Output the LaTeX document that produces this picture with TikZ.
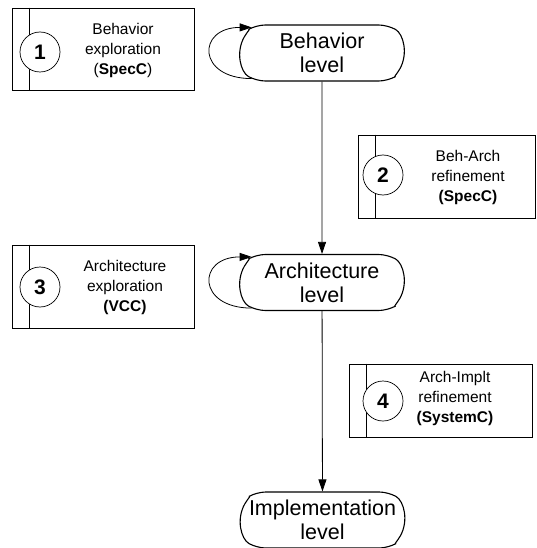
\documentclass[tikz,border=0pt]{standalone}
\usepackage{fontspec}
\setmainfont{Liberation Sans}
\usetikzlibrary{shapes.misc, arrows.meta, positioning}

\begin{document}
\begin{tikzpicture}[x=1pt, y=-1pt,
  lvl/.style={rounded rectangle, rounded rectangle arc length=120, rounded corners=9pt,
              draw=black, line width=1.1pt, minimum width=164pt, minimum height=56pt,
              inner sep=0pt, align=center, font=\fontsize{21.5}{24}\selectfont},
  toolbox/.style={rectangle, draw=black, line width=0.8pt, inner sep=0pt},
  num/.style={circle, draw=black, fill=white, line width=0.7pt, minimum size=40pt,
              inner sep=0pt, font=\fontsize{21}{24}\selectfont\bfseries},
  lbl/.style={align=center, inner sep=0pt, font=\fontsize{15.5}{20}\selectfont},
  ar/.style={-{Triangle[length=12pt, width=8pt]}, line width=0.8pt}
]
  \useasboundingbox (0,0) rectangle (537,548);

  % design levels
  \node[lvl] (beh) at (322,53)    {Behavior\\level};
  \node[lvl] (arc) at (322,282.5) {Architecture\\level};
  \node[lvl] (imp) at (322.5,520) {Implementation\\level};

  % tool boxes
  \node[toolbox, minimum width=182pt, minimum height=82pt] (t1) at (103,49)    {};
  \node[toolbox, minimum width=177pt, minimum height=83pt] (t2) at (446.5,176.5) {};
  \node[toolbox, minimum width=182pt, minimum height=83pt] (t3) at (103,286.5) {};
  \node[toolbox, minimum width=183pt, minimum height=73pt] (t4) at (440.5,400.5) {};
  \foreach \t in {t1,t2,t3,t4}
    \draw[line width=0.8pt] ([xshift=18pt]\t.north west) -- ([xshift=18pt]\t.south west);

  \node[num] (n1) at (40,52)  {1};
  \node[num] (n2) at (383,175) {2};
  \node[num] (n3) at (40,287) {3};
  \node[num] (n4) at (383,401) {4};

  \node[lbl] (l1) at (123,50)  {Behavior\\exploration\\(\textbf{SpecC})};
  \node[lbl] (l2) at (468,177) {Beh-Arch\\refinement\\\textbf{(SpecC)}};
  \node[lbl] (l3) at (125,287) {Architecture\\exploration\\\textbf{(VCC)}};
  \node[lbl] (l4) at (455,398) {Arch-Implt\\refinement\\\textbf{(SystemC)}};

  % flow
  \draw[ar] (beh) -- (arc);
  \draw[ar] (arc) -- (imp);
  \draw[ar] (beh.200) .. controls +(-55,0) and +(-55,0) .. (beh.160);
  \draw[ar] (arc.200) .. controls +(-55,0) and +(-55,0) .. (arc.160);
\end{tikzpicture}
\end{document}
